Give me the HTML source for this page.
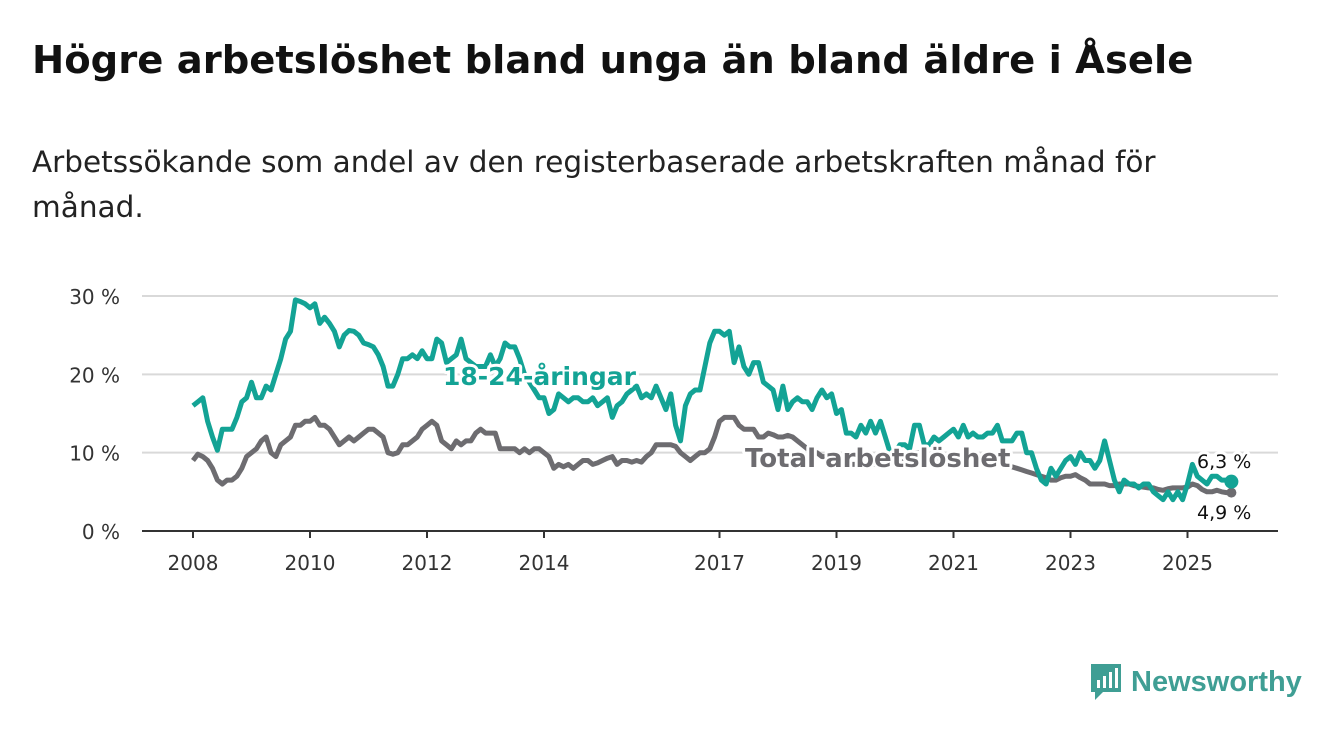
<!DOCTYPE html>
<html><head><meta charset="utf-8"><style>
body{margin:0;width:1340px;height:734px;background:#fff;font-family:"DejaVu Sans",sans-serif;overflow:hidden;position:relative}
.t{position:absolute;left:32px;top:38px;font-size:38.5px;font-weight:bold;color:#111;white-space:nowrap}
.s{position:absolute;left:32px;top:140px;font-size:29.5px;color:#222;line-height:45px;width:1300px}
svg{position:absolute;left:0;top:0}
</style></head><body>
<div class="t">Högre arbetslöshet bland unga än bland äldre i Åsele</div>
<div class="s">Arbetssökande som andel av den registerbaserade arbetskraften månad för<br>månad.</div>
<svg width="1340" height="734" id="chart"></svg>
<script>
const yTicks=[0,10,20,30];
const yTickLabels=["0 %","10 %","20 %","30 %"];
const xTicks=[2008,2010,2012,2014,2017,2019,2021,2023,2025];
const youth=[16,16.5,17,14,12,10.3,13,13,13,14.5,16.5,17,
19,17,17,18.5,18,20,22,24.5,25.5,29.5,29.3,29,
28.5,29,26.5,27.3,26.5,25.5,23.5,25,25.6,25.5,25,24,
23.8,23.5,22.5,21,18.5,18.5,20,22,22,22.5,22,23,
22,22,24.5,24,21.5,22,22.5,24.5,22,21.5,21,21,
21,22.5,21,22,24,23.5,23.5,22,20,19,18,17,
17,15,15.5,17.5,17,16.5,17,17,16.5,16.5,17,16,
16.5,17,14.5,16,16.5,17.5,18,18.5,17,17.5,17,18.5,
17,15.5,17.5,13.5,11.5,16,17.5,18,18,21,24,25.5,
25.5,25,25.5,21.5,23.5,21,20,21.5,21.5,19,18.5,18,
15.5,18.5,15.5,16.5,17,16.5,16.5,15.5,17,18,17,17.5,
15,15.5,12.5,12.5,12,13.5,12.5,14,12.5,14,12,10,
10,11,11,10.5,13.5,13.5,11,11,12,11.5,12,12.5,
13,12,13.5,12,12.5,12,12,12.5,12.5,13.5,11.5,11.5,
11.5,12.5,12.5,10,10,8,6.5,6,8,7,8,9,
9.5,8.5,10,9,9,8,9,11.5,9,6.5,5,6.5,
6,6,5.5,6,6,5,4.5,4,5,4,5,4,
6,8.5,7,6.5,6,7,7,6.5,6.5,6.3];
const total=[9,9.8,9.5,9,8,6.5,6,6.5,6.5,7,8,9.5,
10,10.5,11.5,12,10,9.5,11,11.5,12,13.5,13.5,14,
14,14.5,13.5,13.5,13,12,11,11.5,12,11.5,12,12.5,
13,13,12.5,12,10,9.8,10,11,11,11.5,12,13,
13.5,14,13.5,11.5,11,10.5,11.5,11,11.5,11.5,12.5,13,
12.5,12.5,12.5,10.5,10.5,10.5,10.5,10,10.5,10,10.5,10.5,
10,9.5,8,8.5,8.2,8.5,8,8.5,9,9,8.5,8.7,
9,9.3,9.5,8.5,9,9,8.8,9,8.8,9.5,10,11,
11,11,11,10.8,10,9.5,9,9.5,10,10,10.5,12,
14,14.5,14.5,14.5,13.5,13,13,13,12,12,12.5,12.3,
12,12,12.2,12,11.5,11,10.5,10,10,9.5,9.5,9.5,
9,9,9,8.5,8.5,8.5,8.5,8.5,8.5,8.5,8.5,8.5,
8.5,8.5,9,10,10,10,9.5,9.5,9,9,9,9,
9,9,9,8.5,8.5,8.5,8.5,8.5,8.5,8.5,8.5,8.3,
8.2,8,7.8,7.6,7.4,7.2,7,6.8,6.5,6.5,6.8,7,
7,7.2,6.8,6.5,6,6,6,6,5.8,5.8,6,6,
6,5.8,5.7,5.6,5.5,5.5,5.3,5.2,5.4,5.5,5.5,5.5,
5.6,6,5.8,5.3,5,5,5.2,5,4.9,4.9];
const NS="http://www.w3.org/2000/svg",svg=document.getElementById('chart');
const X=i=>193+i*4.875, XY=yr=>193+(yr-2008)*58.5, Y=v=>531-v*7.833;
function mk(t,a,txt){const e=document.createElementNS(NS,t);for(const k in a)e.setAttribute(k,a[k]);if(txt!=null)e.textContent=txt;svg.appendChild(e);return e;}
yTicks.forEach((v,i)=>{
 if(v>0){const g=mk('line',{x1:142,x2:1278,y1:Y(v),y2:Y(v),stroke:'#d9d9d9','stroke-width':2});
 
 }
 const t=mk('text',{x:120,y:Y(v)+8,'text-anchor':'end','font-size':20,fill:'#333'},yTickLabels[i]);
 
 
});
const ax=mk('line',{x1:142,x2:1278,y1:531,y2:531,stroke:'#333','stroke-width':2});


xTicks.forEach(yr=>{
 const tk=mk('line',{x1:XY(yr),x2:XY(yr),y1:531,y2:538,stroke:'#333','stroke-width':2});
 
 
 const t=mk('text',{x:XY(yr),y:570,'text-anchor':'middle','font-size':20,fill:'#333'},yr);
 
 
});
function line(d,c,name){const p=mk('path',{d:d.map((v,i)=>(i?'L':'M')+X(i).toFixed(1)+','+Y(v).toFixed(1)).join(''),fill:'none',stroke:c,'stroke-width':5,'stroke-linejoin':'round'});
 
 }
line(total,'#6d6c70','total-line');
line(youth,'#13a395','youth-line');
const dot=mk('circle',{cx:X(total.length-1),cy:Y(total[total.length-1]),r:5,fill:'#6d6c70'});


const dot2=mk('circle',{cx:X(youth.length-1),cy:Y(youth[youth.length-1]),r:7,fill:'#13a395'});


function lab(x,y,txt,c,name,sz,w){const t=mk('text',{x:x,y:y,'font-size':sz,'font-weight':w,fill:c,stroke:'#fff','stroke-width':6,'paint-order':'stroke','stroke-linejoin':'round'},txt);
 
 }
lab(443,385,'18-24-åringar','#13a395','youth-label',25,'bold');
lab(745,467,'Total arbetslöshet','#6d6c70','total-label',26,'bold');
lab(1197,468,'6,3 %','#111','youth-end-value',19,'normal');
lab(1197,519,'4,9 %','#111','total-end-value',19,'normal');
</script>
<div style="position:absolute;left:1089px;top:662px;height:40px;display:flex;align-items:center">
<svg width="34" height="40" style="position:static"><path d="M2 2h30v28H14l-8 8v-8H2z" fill="#3f9e94"/><rect x="8" y="18" width="3" height="8" fill="#fff"/><rect x="14" y="14" width="3" height="12" fill="#fff"/><rect x="20" y="10" width="3" height="16" fill="#fff"/><rect x="26" y="6" width="3" height="20" fill="#fff"/></svg>
<span style="font-size:29px;font-weight:bold;color:#3f9e94;margin-left:8px;font-family:'Liberation Sans',sans-serif">Newsworthy</span></div>
</body></html>
